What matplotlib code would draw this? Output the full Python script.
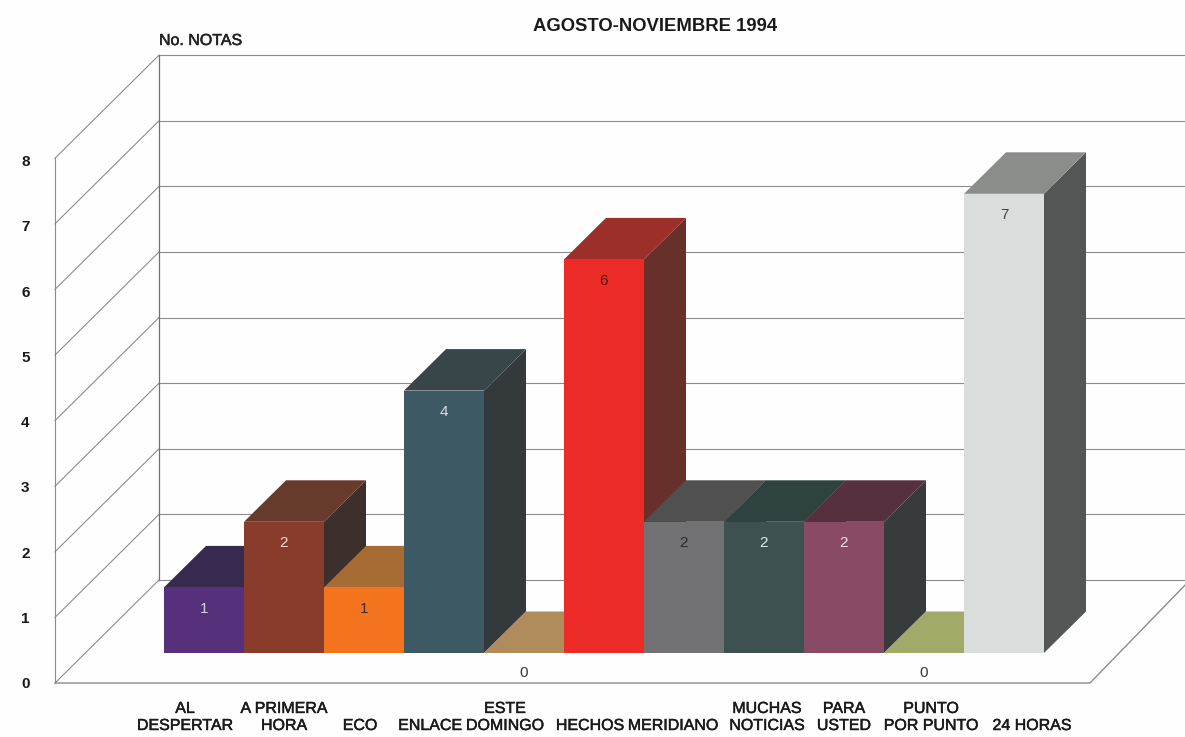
import matplotlib.pyplot as plt
import matplotlib.patheffects as pe
from matplotlib.patches import Polygon

plt.rcParams['font.family'] = ['Liberation Sans', 'DejaVu Sans']

categories = ['AL\nDESPERTAR', 'A PRIMERA\nHORA', 'ECO', 'ENLACE', 'ESTE\nDOMINGO', 'HECHOS',
              'MERIDIANO', 'MUCHAS\nNOTICIAS', 'PARA\nUSTED', 'PUNTO\nPOR PUNTO', '24 HORAS']
values = [1, 2, 1, 4, 0, 6, 2, 2, 2, 0, 7]
y_ticks = [0, 1, 2, 3, 4, 5, 6, 7, 8]

front_cols = ['#56307a', '#8a3c2c', '#f4731f', '#3d5963', '#b08c5c', '#ec2a26',
              '#727274', '#3d5250', '#884a64', '#a2aa6a', '#d9dddb']
top_cols = ['#38294f', '#683a2b', '#a66c34', '#384649', '#b08c5c', '#9c2f29',
            '#505050', '#2e4240', '#56303f', '#a2aa6a', '#8b8d8b']
side_cols = ['#33283c', '#3d302c', '#4a3a2c', '#34393c', '#b08c5c', '#68302a',
             '#444444', '#333d3c', '#383b3b', '#a2aa6a', '#535655']
num_cols = ['#d8d0e0', '#f5d8c8', '#4a2a10', '#d8e0e4', '#333333', '#5a1510',
            '#2a2a2a', '#e0e8e8', '#f5dce4', '#333333', '#444444']

# pixel layout of the scan
W, H = 1185, 737
ux, uy = 80.0, 65.6   # px per category / per note
x0, y0 = 204.0, 653.0 # first bar centre, front floor line
bw = 1.0
dx, dy = 42 / ux, 41.5 / uy

fig = plt.figure(figsize=(W / 100, H / 100), dpi=100, facecolor='#fefefe')
ax = fig.add_axes([0, 0, 1, 1])
ax.set_xlim(-x0 / ux, (W - x0) / ux)
ax.set_ylim((y0 - H) / uy, y0 / uy)
ax.axis('off')

# walls and floor
grid = '#8c8c8c'
lx, rx = (55 - x0) / ux, (1090 - x0) / ux     # front edge of the floor
bx, ex = (159 - x0) / ux, (1190 - x0) / ux    # back wall
fy, by = (y0 - 683) / uy, (y0 - 580) / uy     # floor front, floor back
for v in y_ticks:
    ax.plot([lx, bx], [fy + v, by + v], color=grid, lw=0.8, zorder=1)
    ax.plot([bx, ex], [by + v, by + v], color=grid, lw=0.8, zorder=1)
    ax.text(lx - 0.37, fy - 0.02 + v * 0.995, str(v), ha='center', va='center', fontsize=11, fontweight='bold',
            color='#1a1a1a')
ax.plot([lx, lx], [fy, fy + y_ticks[-1]], color=grid, lw=0.8, zorder=1)
ax.plot([bx, bx], [by, by + y_ticks[-1]], color='#707070', lw=0.9, zorder=1)
ax.plot([lx, rx, ex], [fy, fy, by], color=grid, lw=1.0, zorder=1)

# bars, left to right so every front covers the side before it
for i, v in enumerate(values):
    l, r = i - bw / 2, i + bw / 2
    z = 2 + i
    if v > 0:
        ax.add_patch(Polygon([(r, 0), (r + dx, dy), (r + dx, v + dy), (r, v)], fc=side_cols[i], ec='none', zorder=z))
    ax.add_patch(Polygon([(l, v), (r, v), (r + dx, v + dy), (l + dx, v + dy)], fc=top_cols[i], ec='none', zorder=z))
    if v > 0:
        ax.add_patch(Polygon([(l, 0), (r, 0), (r, v), (l, v)], fc=front_cols[i], ec='none', zorder=z))
        ax.text(i, v - 0.33, str(v), ha='center', va='center', fontsize=11, color=num_cols[i], zorder=20)
    else:
        ax.text(i - 0.01, -0.31, '0', ha='center', va='center', fontsize=11, color=num_cols[i], zorder=20)

# the scan sets the names unevenly, not under the bars
heavy = [pe.withStroke(linewidth=0.35, foreground='#1a1a1a')]
label_shift = [-19, 0, -4, -14, -19, -14, -11, 3, 0, 7, 28]
for i, name in enumerate(categories):
    ax.text(i + label_shift[i] / ux, (y0 - 733) / uy, name, ha='center', va='bottom',
            fontsize=11.5, color='#1a1a1a', linespacing=1.17, zorder=20, path_effects=heavy)

ax.text((159 - x0) / ux, (y0 - 45) / uy, 'No. NOTAS', ha='left', va='baseline', fontsize=11.5, color='#222222',
        path_effects=heavy)
ax.text((655 - x0) / ux, (y0 - 31) / uy, 'AGOSTO-NOVIEMBRE 1994', ha='center', va='baseline',
        fontsize=13.3, fontweight='bold', color='#1a1a1a')

fig.savefig('out.png', dpi=100, facecolor=fig.get_facecolor())
